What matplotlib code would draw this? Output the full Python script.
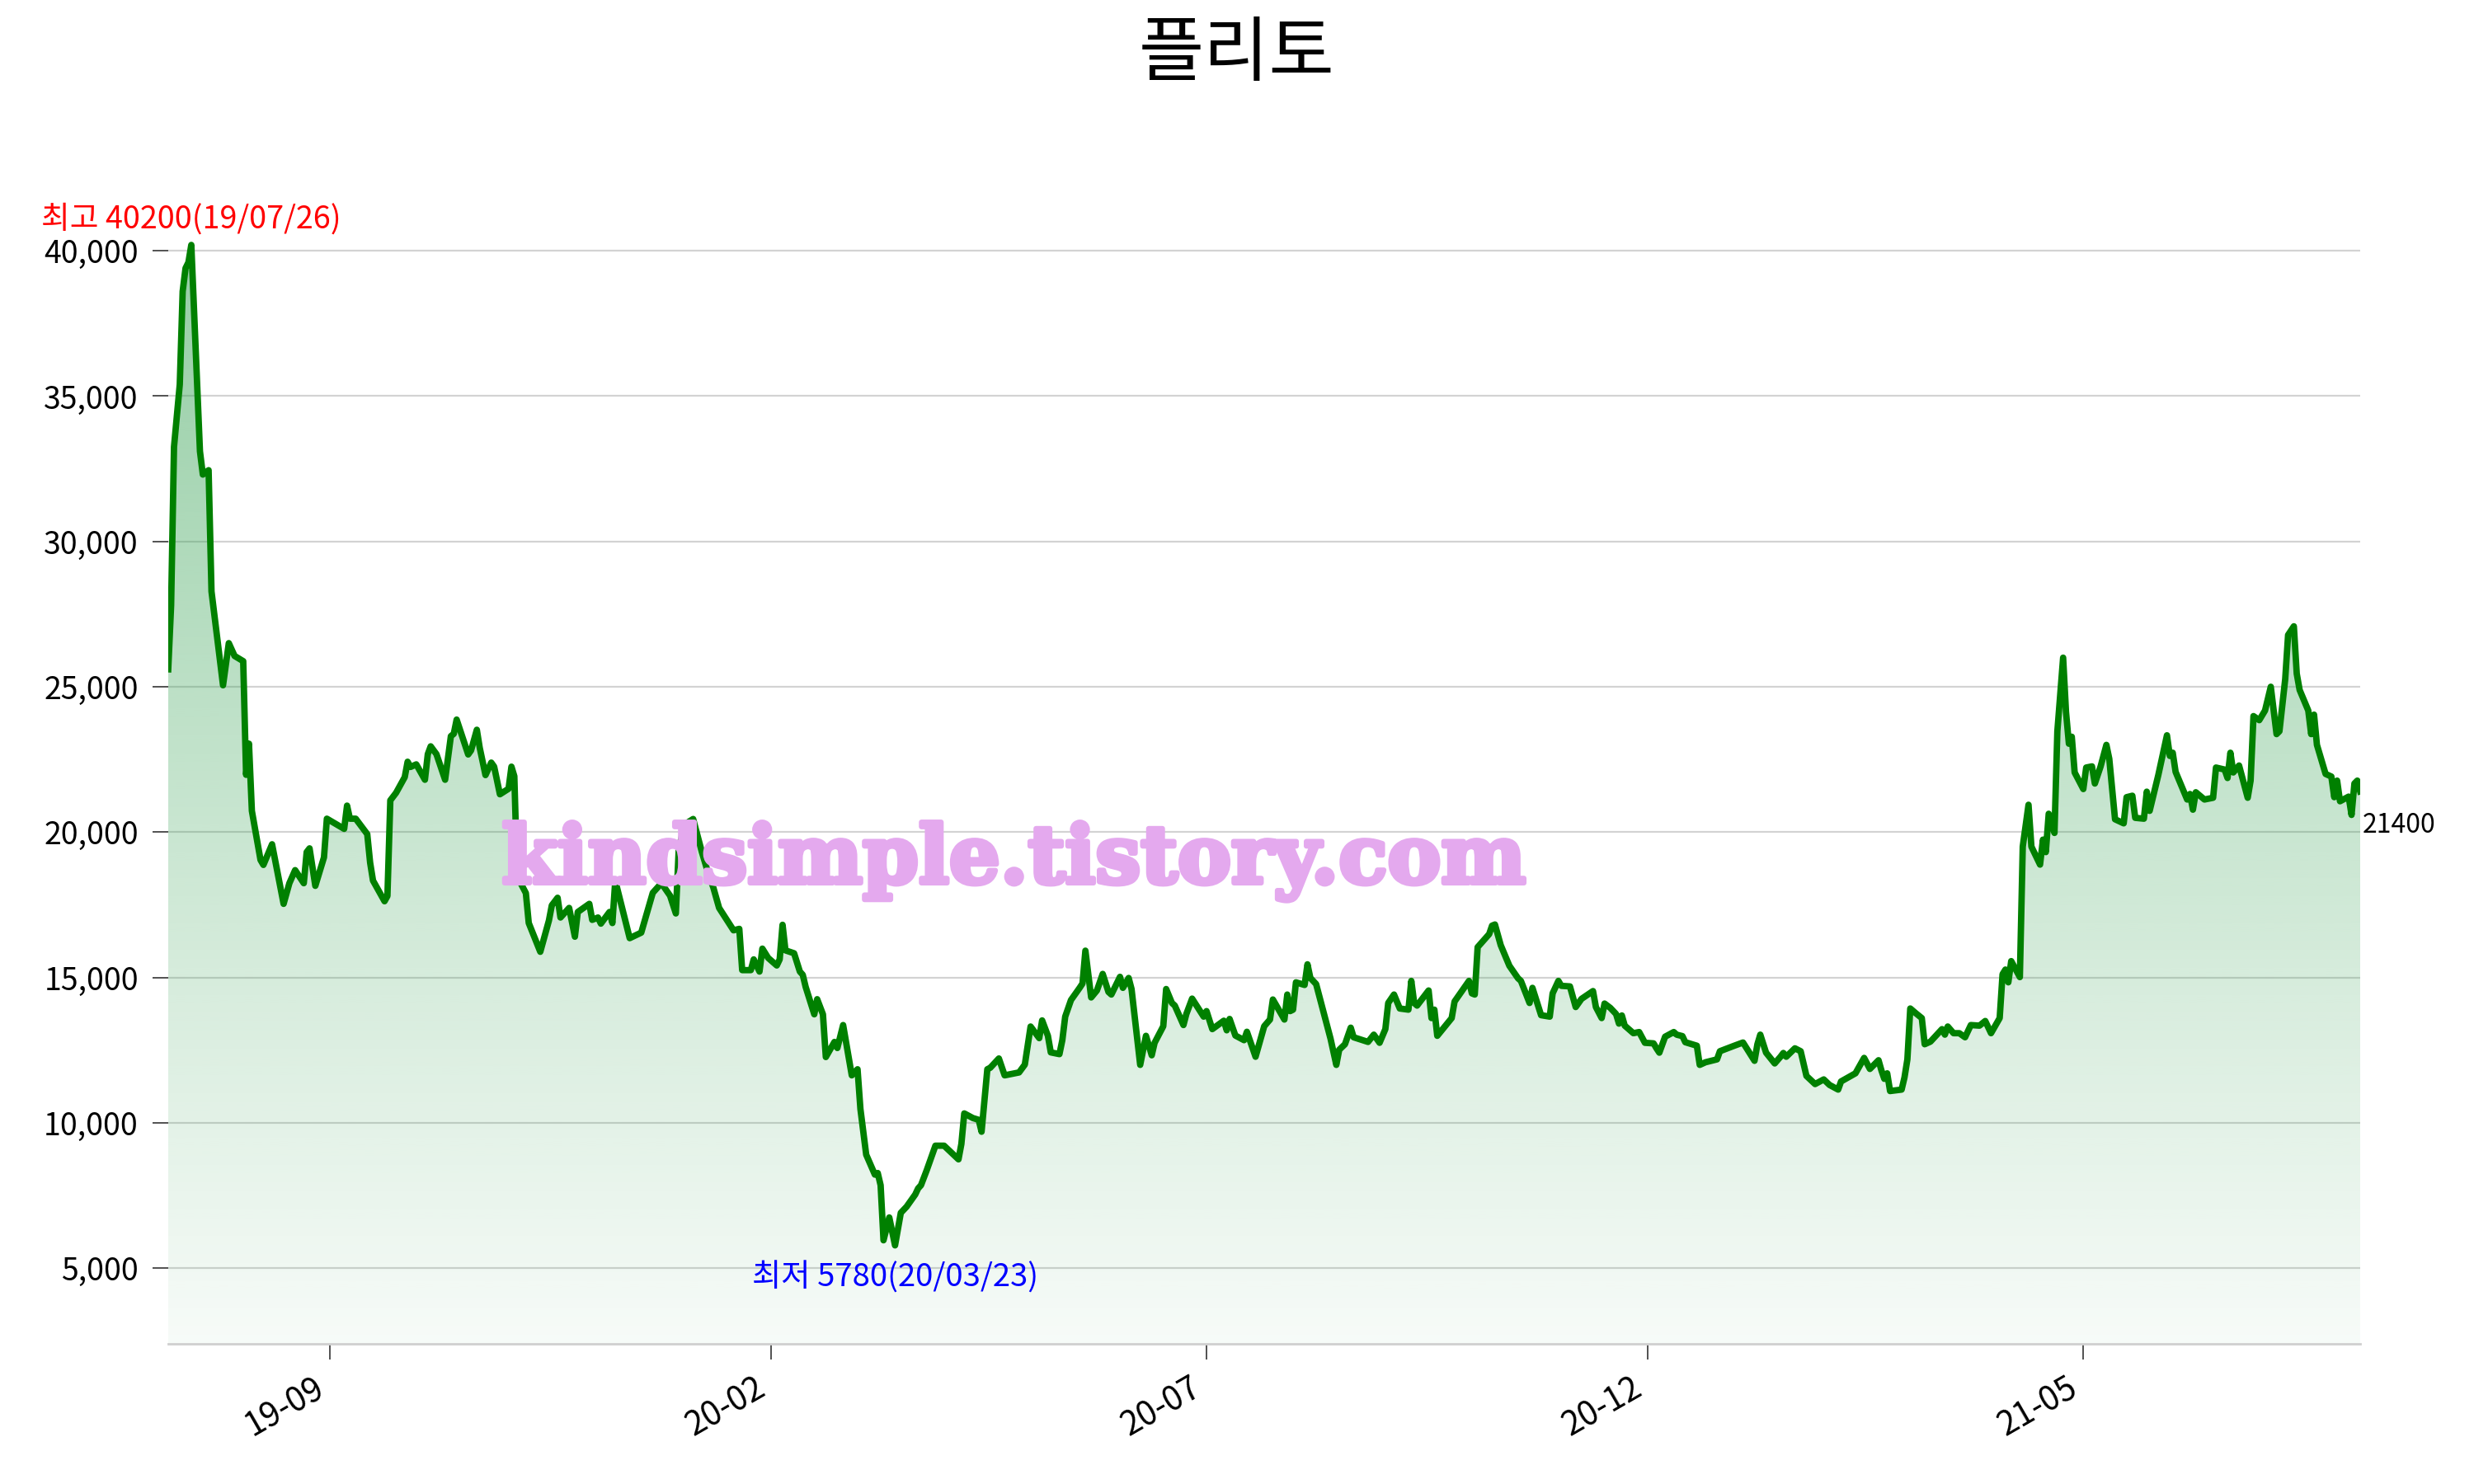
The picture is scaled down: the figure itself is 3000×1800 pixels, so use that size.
import numpy as np
import pandas as pd
import matplotlib
matplotlib.use("Agg")
import matplotlib.pyplot as plt
import matplotlib.dates as mdates
import matplotlib.patheffects as pe
from matplotlib.ticker import FuncFormatter

plt.rcParams['font.family'] = ['Noto Sans CJK KR', 'DejaVu Sans']

# ---------------- data ----------------
title = "플리토"
start_date = "2019-07-07"
day_offset = [
    0, 1, 2, 4, 5, 6, 7, 8, 11, 12, 14, 15, 19, 21, 23, 26, 27, 28, 29, 32, 33, 36, 40, 42, 44, 47, 48, 49, 51, 54,
    55, 61, 62, 63, 65, 69, 70, 71, 75, 76, 77, 79, 82, 83, 84, 86, 89, 90, 91, 93, 96, 98, 99, 100, 104, 105, 107,
    108, 110, 112, 113, 115, 118, 119, 120, 121, 124, 125, 129, 132, 133, 135, 136, 139, 141, 142, 146, 147, 149,
    150, 153, 154, 155, 160, 164, 168, 171, 174, 176, 177, 179, 182, 185, 187, 189, 191, 196, 198, 199, 202, 203,
    205, 206, 208, 211, 212, 213, 214, 217, 219, 220, 221, 224, 225, 227, 228, 231, 232, 234, 237, 239, 240, 242,
    245, 246, 247, 248, 250, 252, 254, 256, 259, 260, 261, 263, 266, 269, 274, 275, 276, 279, 281, 282, 284, 285,
    288, 290, 295, 297, 299, 302, 303, 305, 306, 309, 310, 311, 313, 316, 317, 318, 320, 322, 324, 326, 327, 330,
    331, 333, 334, 337, 339, 341, 342, 345, 346, 348, 349, 352, 353, 355, 359, 360, 362, 366, 367, 368, 370, 373,
    374, 377, 380, 382, 383, 387, 388, 389, 390, 391, 394, 395, 396, 398, 403, 405, 406, 408, 410, 411, 416, 418,
    420, 422, 423, 425, 427, 430, 431, 432, 433, 437, 438, 439, 440, 445, 446, 451, 452, 453, 454, 458, 459, 460,
    462, 465, 468, 469, 472, 473, 476, 479, 480, 482, 483, 486, 488, 490, 494, 495, 497, 498, 500, 502, 503, 504,
    505, 508, 510, 512, 515, 516, 517, 519, 522, 523, 525, 526, 530, 531, 533, 537, 538, 543, 546, 550, 551, 552,
    554, 557, 559, 560, 561, 564, 566, 568, 571, 574, 576, 579, 580, 585, 588, 590, 593, 594, 595, 596, 597, 601,
    602, 603, 604, 606, 608, 609, 611, 615, 616, 617, 619, 621, 623, 625, 628, 630, 632, 635, 636, 637, 638, 639,
    642, 643, 645, 646, 649, 650, 651, 652, 654, 655, 657, 658, 659, 660, 661, 664, 665, 667, 668, 670, 672, 673,
    675, 678, 679, 681, 682, 685, 686, 687, 690, 693, 694, 695, 696, 700, 701, 702, 703, 706, 709, 710, 713, 714,
    715, 716, 718, 721, 722, 723, 725, 727, 729, 731, 732, 734, 735, 737, 738, 739, 742, 743, 744, 745, 748, 750,
    751, 752, 753, 756, 757, 758, 759, 760,
]
price = [
    25600, 27800, 33250, 35400, 38600, 39400, 39600, 40200, 33100, 32300, 32450, 28280, 25050, 26500, 26060, 25880,
    21970, 23040, 20730, 19040, 18870, 19580, 17530, 18240, 18690, 18240, 19310, 19440, 18150, 19130,
    20460, 20110, 20910, 20460, 20460, 19930, 18950, 18330, 17620, 17800, 21090, 21350, 21890, 22420, 22240, 22330,
    21800, 22680, 22950, 22680, 21800, 23300, 23380, 23870, 22670, 22810, 23520,
    22900, 21960, 22390, 22250, 21300, 21490, 22250, 21920, 18470, 17900, 16870, 15880, 16960, 17480, 17740, 17060,
    17390, 16400, 17250, 17530, 16980, 17060,
    16850, 17250, 16870, 18330, 16350, 16540, 17910, 18240, 17810, 17200, 19400, 20260, 20450, 19320, 18660, 18090,
    17390, 16620, 16670, 15250, 15250, 15620,
    15200, 15990, 15670, 15410, 15620, 16810, 15930, 15830, 15200, 15090, 14675, 13730, 14250, 13730, 12260, 12780,
    12570, 13360, 11630, 11840, 10470, 8900,
    8215, 8270, 7850, 5955, 6740, 5780, 6900, 7110, 7530, 7740, 7850, 8370, 9210, 9210, 8740, 9270, 10320, 10160,
    10100, 9690, 11840, 11890,
    12210, 11630, 11730, 12000, 13310, 12910, 13520, 12990, 12420, 12360, 12840, 13650, 14220, 14640, 14790, 15920,
    14310, 14550, 15120, 14500, 14410, 15020,
    14640, 14980, 14600, 11990, 12990, 12320, 12750, 13320, 14600, 14120, 14030, 13360, 13740, 14270, 13650, 13840,
    13220, 13510, 13180, 13570, 13000, 12840,
    13130, 12270, 13320, 13550, 14240, 13550, 14410, 13840, 13890, 14830, 14740, 15450, 14980, 14770, 12890, 11990,
    12510, 12700, 13270, 12940, 12780, 13030,
    12750, 13220, 14120, 14410, 13930, 13890, 14880, 14120, 14030, 14550, 13600, 13890, 12990, 13600, 14170, 14880,
    14450, 14410, 16040, 16490, 16780, 16820,
    16110, 15400, 14970, 14880, 14120, 14640, 13700, 13650, 14450, 14880, 14710, 14690, 13980, 14260, 14530, 13980,
    13600, 14100, 13950, 13740, 13410, 13690,
    13340, 13080, 13120, 12750, 12730, 12560, 12410, 12960, 13120, 13030, 12980, 12770, 12650, 11990, 12080, 12180,
    12460, 12650, 12760, 12130, 12700, 13030,
    12410, 12040, 12270, 12400, 12270, 12560, 12460, 11610, 11330, 11490, 11300, 11140, 11420, 11700, 12230, 11850,
    12150, 11800, 11510, 11700, 11090, 11140,
    11560, 12180, 13930, 13760, 13600, 12700, 12790, 13220, 13030, 13310, 13080, 13080, 12940, 13360, 13340, 13500,
    13080, 13600, 15110, 15270, 14830, 15560,
    15010, 19500, 20940, 19500, 18880, 19740, 19310, 20630, 19970, 23470, 26000, 24130, 23040, 23280, 22050, 21480,
    22220, 22260, 21670, 22260, 23000, 22520,
    20440, 20300, 21200, 21250, 20490, 20460, 21390, 20730, 21960, 23330, 22620, 22730, 22070, 21120, 21310, 20770,
    21370, 21120, 21180, 22220, 22150, 21860,
    22730, 22050, 22290, 21180, 21770, 23990, 23850, 24180, 25000, 23370, 23470, 25260, 26780, 27080, 25450, 24890,
    24180, 23370, 24040, 23000, 22000, 21910,
    21200, 21770, 21060, 21220, 20590, 21670, 21770, 21400,
]
ytick_values = [5000, 10000, 15000, 20000, 25000, 30000, 35000, 40000]
xtick_dates = ["2019-09-01", "2020-02-01", "2020-07-01", "2020-12-01", "2021-05-01"]
high_label = "최고 40200(19/07/26)"
low_label = "최저 5780(20/03/23)"
watermark = "kindsimple.tistory.com"

# ---------------- figure ----------------
dates = pd.Timestamp(start_date) + pd.to_timedelta(day_offset, unit="D")
x = mdates.date2num(dates.to_pydatetime())
y = np.array(price, dtype=float)

fig = plt.figure(figsize=(15, 9), dpi=200)
ax = fig.add_axes([0.068, 0.0944, 0.886, 0.7758])

ymin, ymax = 2390, 42000

# gradient fill under the line
poly = ax.fill_between(x, y, ymin, facecolor="none", edgecolor="none")
path = poly.get_paths()[0]
n = 256
grad = np.zeros((n, 1, 4))
grad[:, 0, 0] = 50 / 255
grad[:, 0, 1] = 160 / 255
grad[:, 0, 2] = 80 / 255
grad[:, 0, 3] = np.linspace(0.04, 0.52, n)
im = ax.imshow(grad, extent=[x.min(), x.max(), ymin, y.max()], origin="lower",
               aspect="auto", zorder=1, interpolation="bilinear")
im.set_clip_path(path, transform=ax.transData)

ax.plot(x, y, color="#008000", lw=2.8, zorder=3, solid_joinstyle="round")

ax.set_xlim(x.min(), x.max())
ax.set_ylim(ymin, ymax)

ax.set_yticks(ytick_values)
ax.yaxis.set_major_formatter(FuncFormatter(lambda v, p: f"{int(v):,}"))
ax.grid(axis="y", color="#d3d3d3", lw=0.8, zorder=0)
ax.set_axisbelow(True)

xt = mdates.date2num(pd.to_datetime(xtick_dates).to_pydatetime())
ax.set_xticks(xt)
ax.set_xticklabels([pd.Timestamp(d).strftime("%y-%m") for d in xtick_dates],
                   rotation=30, ha="right", fontsize=14.5)
ax.tick_params(axis="x", length=7, width=0.6, color="#333333", pad=5)
ax.tick_params(axis="y", length=7, width=0.6, color="#333333", pad=6, labelsize=13.5)

for s in ["top", "right", "left"]:
    ax.spines[s].set_visible(False)
ax.spines["bottom"].set_color("#cfcfcf")
ax.spines["bottom"].set_linewidth(1.0)

# annotations
imax = int(np.argmax(y))
imin = int(np.argmin(y))
ax.annotate(high_label, (x[imax], y[imax]), xytext=(0, 4), textcoords="offset points",
            ha="center", va="bottom", color="red", fontsize=13.6, zorder=5)
ax.annotate(low_label, (x[imin], y[imin]), xytext=(0, -7), textcoords="offset points",
            ha="center", va="top", color="blue", fontsize=13.8, zorder=5)
ax.annotate(f"{int(y[-1])}", (x[-1], y[-1]), xytext=(1, -9), textcoords="offset points",
            ha="left", va="top", color="black", fontsize=11.5, annotation_clip=False, zorder=5)

fig.text(0.5, 0.963, title, ha="center", va="center", fontsize=31, color="black")
wm = fig.text(0.41, 0.405, watermark, ha="center", va="baseline", fontsize=35,
              family="DejaVu Serif", weight="heavy", color="#E4A9EE", zorder=10)
wm.set_path_effects([pe.withStroke(linewidth=2.2, foreground="#E4A9EE")])

fig.savefig("out.png", dpi=200, facecolor="white")
